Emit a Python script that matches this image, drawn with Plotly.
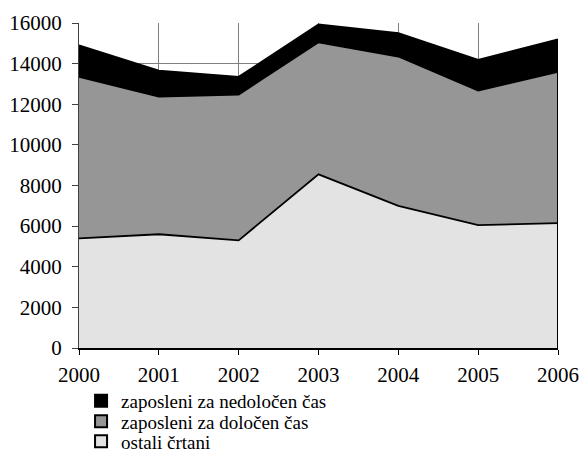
import plotly.graph_objects as go

years = [2000, 2001, 2002, 2003, 2004, 2005, 2006]
ostali_crtani = [5400, 5600, 5300, 8550, 7000, 6050, 6150]
dolocen_cas = [7950, 6780, 7180, 6500, 7350, 6620, 7450]
nedolocen_cas = [1550, 1270, 870, 880, 1150, 1510, 1600]
y_ticks = [0, 2000, 4000, 6000, 8000, 10000, 12000, 14000, 16000]

series = [
    ("ostali črtani", ostali_crtani, "#E3E3E3"),
    ("zaposleni za določen čas", dolocen_cas, "#969696"),
    ("zaposleni za nedoločen čas", nedolocen_cas, "#000000"),
]

FONT = "Liberation Serif"
fig = go.Figure()
for name, vals, col in series:
    fig.add_trace(go.Scatter(x=years, y=vals, stackgroup="s", mode="lines",
                             line=dict(color="black", width=1.8), fillcolor=col,
                             name=name, showlegend=False, hoverinfo="skip"))

# right edge outline of stacked areas
total = [a + b + c for a, b, c in zip(ostali_crtani, dolocen_cas, nedolocen_cas)]
fig.add_trace(go.Scatter(x=[years[-1], years[-1]], y=[0, total[-1]], mode="lines",
                         line=dict(color="black", width=2), showlegend=False, hoverinfo="skip"))

# legend entries (top to bottom), one small legend per row
legend_names = ["legend", "legend2", "legend3"]
row_centers = [401, 421.5, 441.5]
for lg, (name, vals, col) in zip(legend_names, reversed(series)):
    fig.add_trace(go.Scatter(x=[None], y=[None], mode="markers", name=name, legend=lg,
                             marker=dict(symbol="square", size=11, color=col,
                                         line=dict(color="black", width=1))))

legend_common = dict(xref="container", yref="container", x=0.14,
                     xanchor="left", yanchor="middle", font=dict(family=FONT, size=19),
                     itemsizing="constant", bgcolor="rgba(0,0,0,0)", itemwidth=30,
                     borderwidth=0)
layout_legends = {lg: dict(legend_common, y=1 - yc / 453) for lg, yc in zip(legend_names, row_centers)}

fig.update_layout(
    width=579, height=453,
    margin=dict(l=79, r=21, t=23, b=105, autoexpand=False),
    paper_bgcolor="white", plot_bgcolor="white",
    font=dict(family=FONT, size=21, color="black"),
    xaxis=dict(range=[years[0], years[-1]], tickmode="array", tickvals=years,
               ticktext=[str(y) for y in years], showgrid=True, gridcolor="#808080",
               gridwidth=1, showline=True, linecolor="black", linewidth=2,
               ticks="outside", ticklen=5, tickcolor="black", zeroline=False,
               tickangle=0, ticklabelstandoff=2),
    yaxis=dict(range=[0, 16000], tickmode="array", tickvals=y_ticks,
               ticktext=[str(v) for v in y_ticks], showgrid=True, gridcolor="#808080",
               gridwidth=1, showline=True, linecolor="#404040", linewidth=1,
               ticks="outside", ticklen=6, tickcolor="#404040", zeroline=False,
               ticklabelstandoff=6),
    **layout_legends,
)

fig.write_html("out.html", config={"displayModeBar": False},
               post_script="document.body.style.margin='0';document.body.style.overflow='hidden';")
